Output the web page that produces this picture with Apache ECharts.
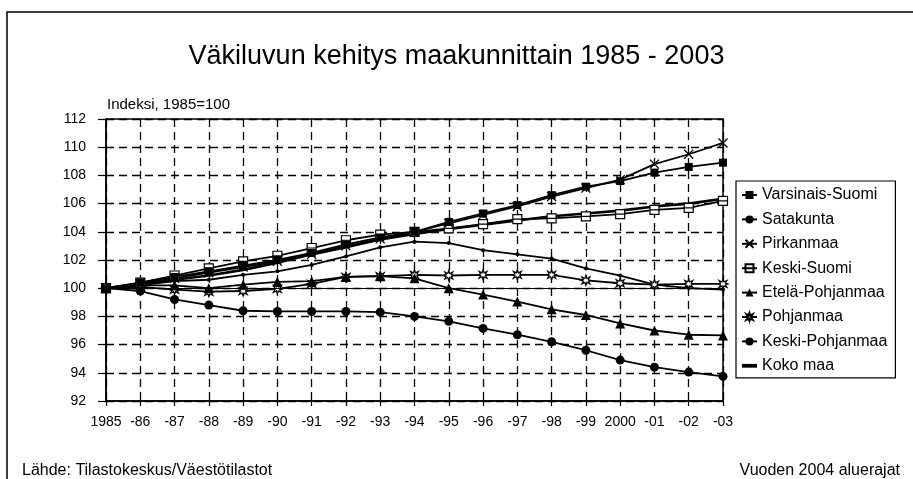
<!DOCTYPE html>
<html lang="fi">
<head>
    <meta charset="UTF-8">
    <title>Väkiluvun kehitys maakunnittain 1985 - 2003</title>
    <script src="https://cdn.jsdelivr.net/npm/echarts@6/dist/echarts.min.js"></script>
    <style>
        html, body { margin: 0; padding: 0; background: #fff; }
        #chart { width: 913px; height: 479px; }
    </style>
</head>
<body>
<div id="chart"></div>
<script>
    // vuodet (x-akseli)
    var years = ['1985', '-86', '-87', '-88', '-89', '-90', '-91', '-92', '-93', '-94',
        '-95', '-96', '-97', '-98', '-99', '2000', '-01', '-02', '-03'];

    // indeksi, 1985=100 (luettu kuvasta)
    var varsinaisSuomi = [100, 100.4, 100.8, 101.2, 101.6, 102.0, 102.5, 103.1, 103.6, 104.0,
        104.7, 105.3, 105.9, 106.6, 107.2, 107.6, 108.2, 108.6, 108.9];
    var satakunta = [100, 99.8, 99.2, 98.8, 98.4, 98.35, 98.35, 98.35, 98.3, 98.0,
        97.65, 97.15, 96.7, 96.2, 95.6, 94.9, 94.4, 94.05, 93.75];
    var pirkanmaa = [100, 100.3, 100.7, 101.1, 101.5, 101.9, 102.4, 103.0, 103.5, 104.0,
        104.6, 105.2, 105.8, 106.5, 107.1, 107.7, 108.8, 109.5, 110.3];
    var keskiSuomi = [100, 100.4, 100.9, 101.4, 101.9, 102.3, 102.85, 103.4, 103.8, 104.0,
        104.25, 104.55, 104.9, 104.95, 105.1, 105.25, 105.55, 105.7, 106.2];
    var etelaPohjanmaa = [100, 100.2, 100.2, 100.0, 100.25, 100.45, 100.5, 100.8, 100.85, 100.7,
        100.0, 99.55, 99.05, 98.5, 98.1, 97.5, 97.0, 96.7, 96.65];
    var pohjanmaa = [100, 100.1, 99.9, 99.75, 99.8, 99.95, 100.3, 100.8, 100.85, 100.95,
        100.9, 100.95, 100.95, 100.95, 100.55, 100.35, 100.25, 100.3, 100.3];
    var keskiPohjanmaa = [100, 100.2, 100.5, 100.6, 100.95, 101.2, 101.65, 102.25, 102.9, 103.3,
        103.2, 102.7, 102.4, 102.1, 101.4, 100.9, 100.25, 100.0, 99.9];
    var kokoMaa = [100, 100.3, 100.6, 100.9, 101.3, 101.8, 102.4, 102.9, 103.45, 103.85,
        104.2, 104.5, 104.8, 105.1, 105.3, 105.5, 105.8, 106.0, 106.35];

    var yTicks = { min: 92, max: 112, interval: 2 };

    var font = 'Liberation Sans, Arial, sans-serif';
    var starPath = 'path://M5,0L6,3L9,1.5L7.5,4.2L10,5L7.5,5.8L9,8.5L6,7L5,10L4,7L1,8.5L2.5,5.8L0,5L2.5,4.2L1,1.5L4,3Z';

    function line(name, data, symbol, size, filled, extra) {
        var s = {
            name: name,
            type: 'line',
            data: data,
            symbol: symbol,
            symbolSize: size,
            symbolKeepAspect: true,
            showSymbol: symbol !== 'none',
            lineStyle: { color: '#000', width: 1.8 },
            itemStyle: {
                color: filled ? '#000' : '#fff',
                borderColor: '#000',
                borderWidth: filled ? 0 : 1.2
            },
            emphasis: { disabled: true },
            animation: false
        };
        for (var k in extra) s[k] = extra[k];
        return s;
    }

    var chart = echarts.init(document.getElementById('chart'));
    chart.setOption({
        backgroundColor: '#fff',
        animation: false,
        title: {
            text: 'Väkiluvun kehitys maakunnittain 1985 - 2003',
            left: 'center',
            top: 38,
            textStyle: { fontFamily: font, fontSize: 27, fontWeight: 'normal', color: '#000' }
        },
        legend: {
            orient: 'vertical',
            left: 736,
            top: 181,
            padding: [5, 8, 3, 5],
            itemGap: 6.4,
            itemWidth: 15,
            itemHeight: 10,
            borderColor: '#000',
            borderWidth: 1.2,
            backgroundColor: '#fff',
            textStyle: { fontFamily: font, fontSize: 16, color: '#000', lineHeight: 18 },
            data: ['Varsinais-Suomi', 'Satakunta', 'Pirkanmaa', 'Keski-Suomi',
                'Etelä-Pohjanmaa', 'Pohjanmaa', 'Keski-Pohjanmaa',
                { name: 'Koko maa', icon: 'path://M0,0H20V5H0Z', itemStyle: { color: '#000' } }]
        },
        grid: {
            left: 106, right: 190, top: 119, bottom: 78,
            show: true, borderColor: '#000', borderWidth: 1.5
        },
        xAxis: {
            type: 'category',
            data: years,
            boundaryGap: false,
            axisLine: { lineStyle: { color: '#000', width: 1.5 } },
            axisTick: { show: true, length: 5, lineStyle: { color: '#000', width: 1.2 } },
            axisLabel: { interval: 0, margin: 14, fontFamily: font, fontSize: 14, color: '#000' },
            splitLine: { show: true, lineStyle: { color: '#000', width: 1.3, type: [8, 5] } }
        },
        yAxis: {
            type: 'value',
            min: yTicks.min,
            max: yTicks.max,
            interval: yTicks.interval,
            axisLine: { show: true, lineStyle: { color: '#000', width: 1.5 } },
            axisTick: { show: true, length: 8, lineStyle: { color: '#000', width: 1.2 } },
            axisLabel: { margin: 20, fontFamily: font, fontSize: 14, color: '#000' },
            splitLine: { show: true, lineStyle: { color: '#000', width: 1.3, type: [8, 5] } }
        },
        graphic: [
            { type: 'rect', shape: { x: 7, y: 12, width: 930, height: 500 },
              style: { fill: 'none', stroke: '#000', lineWidth: 1.5 }, silent: true },
            { type: 'text', left: 107, top: 97,
              style: { text: 'Indeksi, 1985=100', font: '15px ' + font, fill: '#000' } },
            { type: 'text', left: 22, top: 463,
              style: { text: 'Lähde: Tilastokeskus/Väestötilastot', font: '16px ' + font, fill: '#000' } },
            { type: 'text', right: 13, top: 463,
              style: { text: 'Vuoden 2004 aluerajat', font: '16px ' + font, fill: '#000' } }
        ],
        series: [
            line('Koko maa', kokoMaa, 'none', 0, true, {
                lineStyle: { color: '#000', width: 2.6 },
                markLine: {
                    silent: true, symbol: 'none', animation: false,
                    label: { show: false },
                    lineStyle: { color: '#000', width: 1.2, type: 'solid' },
                    data: [{ yAxis: 100 }]
                }
            }),
            line('Keski-Pohjanmaa', keskiPohjanmaa, 'circle', 4, true),
            line('Pohjanmaa', pohjanmaa, starPath, 10, false),
            line('Etelä-Pohjanmaa', etelaPohjanmaa, 'triangle', 10, true),
            line('Satakunta', satakunta, 'circle', 9, true),
            line('Keski-Suomi', keskiSuomi, 'path://M0,0H10V10H0Z M0,5H10', 9, false),
            line('Varsinais-Suomi', varsinaisSuomi, 'rect', 8, true),
            line('Pirkanmaa', pirkanmaa, 'path://M0,0L10,10M10,0L0,10', 9, false,
                { itemStyle: { color: '#000', borderColor: '#000', borderWidth: 1.3 } })
        ]
    });
</script>
</body>
</html>
